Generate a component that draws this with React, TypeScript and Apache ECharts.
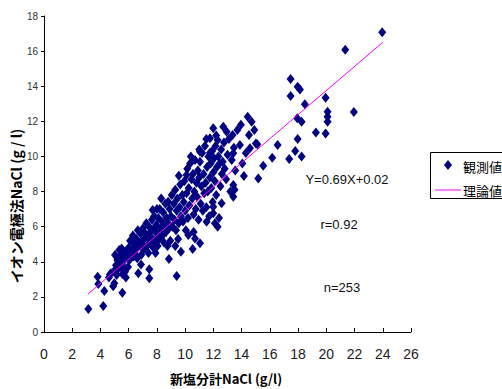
import React, { useEffect, useRef } from "react";
import * as echarts from "echarts";

const xTicks = [0, 2, 4, 6, 8, 10, 12, 14, 16, 18, 20, 22, 24, 26];
const yTicks = [0, 2, 4, 6, 8, 10, 12, 14, 16, 18];

const observedName = "観測値";
const theoryName = "理論値";

// observed points [新塩分計NaCl, イオン電極法NaCl]
const observedOutliers: number[][] = [
  [3.14, 1.31], [4.2, 1.48], [3.8, 3.15], [3.85, 2.73], [4.27, 2.33], [4.67, 3.28],
  [4.98, 2.77], [4.9, 2.6], [5.55, 2.24], [5.33, 4.67], [5.5, 4.75], [5.03, 4.38],
  [5.74, 3.43], [5.8, 3.1], [6.68, 3.34], [7.46, 3.06], [7.46, 3.57], [6.87, 3.85],
  [6.44, 4.48], [9.4, 3.19], [8.85, 4.16], [9.7, 4.57], [10.53, 4.73], [11.05, 5.05],
  [10.7, 5.33], [10.22, 5.52], [12.11, 6.19], [12.3, 6.0], [11.52, 6.28], [11.99, 6.76],
  [12.58, 7.33], [11.99, 7.14], [13.41, 7.71], [13.41, 8.37], [14.16, 8.88], [15.18, 8.75],
  [10.1, 8.94], [7.7, 6.95], [8.8, 7.42], [12.7, 11.69], [12.94, 11.41], [13.36, 11.22],
  [14.52, 11.22], [12.3, 10.93], [15.01, 10.74], [13.88, 10.65], [11.76, 10.21], [13.41, 10.18],
  [12.66, 9.7], [14.43, 12.26], [14.71, 11.98], [11.99, 11.6], [11.76, 11.03], [11.05, 10.27],
  [14.59, 10.46], [15.11, 10.69], [16.55, 10.65], [17.8, 10.31], [17.37, 9.85], [18.25, 10.0],
  [16.17, 9.93], [15.53, 9.47], [17.97, 10.99], [19.26, 11.37], [19.95, 11.31], [17.94, 12.17],
  [18.25, 11.98], [21.95, 12.53], [20.09, 12.55], [20.09, 12.26], [20.09, 11.98], [19.95, 13.34],
  [18.48, 12.97], [17.47, 13.44], [17.97, 13.97], [18.13, 13.82], [17.47, 14.41], [21.34, 16.08],
  [23.96, 17.08], [13.5, 8.1],
];

const observedCloud: number[][] = [
  [4.6, 3.1], [4.75, 3.35], [5.0, 3.5], [5.1, 3.8], [5.15, 3.25], [5.2, 4.1], [5.25, 3.6],
  [5.3, 3.9], [5.4, 4.3], [5.45, 3.7], [5.5, 3.95], [5.55, 3.3], [5.6, 4.5], [5.7, 4.1], [5.75, 3.6],
  [5.8, 4.6], [5.9, 4.3], [5.95, 3.7], [6.0, 4.8], [6.05, 4.1], [6.1, 5.2], [6.15, 4.5],
  [6.25, 4.7], [6.3, 5.5], [6.35, 4.3], [6.4, 5.0], [6.5, 4.7], [6.55, 5.3], [6.6, 4.2],
  [6.65, 5.8], [6.7, 4.9], [6.8, 5.1],
  [6.85, 5.6], [6.9, 4.4], [6.95, 5.0], [7.0, 5.9], [7.05, 4.7], [7.1, 5.3], [7.2, 5.6],
  [7.25, 6.2], [7.3, 4.9], [7.35, 5.4], [7.4, 4.5], [7.45, 6.0], [7.5, 5.1], [7.55, 5.7],
  [7.65, 6.4], [7.7, 5.3], [7.75, 4.8], [7.8, 5.9], [7.8, 6.6],
  [7.85, 5.2], [7.9, 4.5], [7.95, 6.1], [8.0, 5.6], [8.05, 4.9], [8.1, 6.5], [8.15, 5.3],
  [8.2, 7.0], [8.25, 5.9], [8.35, 6.3], [8.4, 5.5], [8.45, 6.8], [8.5, 5.1], [8.55, 6.0],
  [8.6, 7.3], [8.65, 5.7], [8.7, 6.5], [8.75, 4.9], [8.8, 6.2], [8.3, 7.6], [8.0, 7.0],
  [8.85, 5.9], [8.9, 7.0], [8.95, 5.2], [9.0, 6.6], [9.05, 7.8], [9.1, 6.0], [9.2, 7.3],
  [9.25, 6.4], [9.3, 8.1], [9.35, 5.8], [9.4, 6.9], [9.45, 7.6], [9.5, 5.3], [9.55, 6.2],
  [9.6, 7.1], [9.65, 8.4], [9.7, 6.6], [9.8, 7.8], [9.3, 4.9], [9.55, 8.9],
  [9.85, 6.3], [9.9, 7.4], [9.95, 8.6], [10.0, 6.9], [10.05, 5.8], [10.1, 7.9], [10.15, 9.3],
  [10.2, 6.5], [10.25, 8.2], [10.3, 7.2], [10.35, 9.6], [10.45, 8.7], [10.5, 7.6], [10.55, 9.0],
  [10.6, 6.7], [10.65, 8.0], [10.7, 9.8], [10.75, 7.0], [10.8, 8.5], [10.4, 10.0], [10.6, 5.7],
  [10.9, 9.2],
  [10.85, 7.7], [10.95, 6.4], [11.0, 8.8], [11.05, 9.7], [11.1, 7.3], [11.15, 8.3], [11.2, 10.2],
  [11.25, 6.9], [11.3, 9.0], [11.35, 7.9], [11.4, 10.6], [11.45, 8.5], [11.5, 7.1], [11.55, 9.4],
  [11.6, 8.0], [11.65, 10.0], [11.7, 6.6], [11.75, 8.8], [11.8, 9.6], [11.5, 11.0], [11.0, 10.4],
  [11.85, 8.2], [11.9, 10.3], [11.95, 7.4], [12.0, 9.1], [12.05, 9.9], [12.1, 8.6], [12.15, 10.6],
  [12.2, 7.8], [12.25, 9.4], [12.35, 10.0], [12.4, 6.5], [12.45, 9.6], [12.5, 8.3], [12.55, 10.4],
  [12.6, 9.0], [12.75, 10.8], [12.8, 9.3], [12.2, 11.2],
  [12.9, 8.7], [13.0, 10.1], [13.1, 11.0], [13.2, 8.0], [13.3, 9.8], [13.45, 10.5], [13.55, 9.2],
  [13.7, 11.5], [13.95, 11.8], [14.05, 9.6], [14.3, 10.2], [14.9, 11.5],
];

// theoretical line endpoints
const theoryLine: number[][] = [
  [3.1, 2.15],
  [24.0, 16.5],
];

const annotations = ["Y=0.69X+0.02", "r=0.92", "n=253"];

const narrow = "'Liberation Sans Narrow', 'Arial Narrow', 'Liberation Sans', Arial, sans-serif";
const jp = "'Noto Sans CJK JP', 'Liberation Sans', sans-serif";

export default function App() {
  const ref = useRef<HTMLDivElement>(null);

  useEffect(() => {
    if (!ref.current) return;
    const chart = echarts.init(ref.current, null, { renderer: "svg" });
    chart.setOption({
      animation: false,
      backgroundColor: "#ffffff",
      grid: { left: 44, top: 16, width: 367, height: 316 },
      xAxis: {
        type: "value",
        min: xTicks[0],
        max: xTicks[xTicks.length - 1],
        interval: 2,
        axisLine: { show: true, lineStyle: { color: "#000", width: 1 } },
        axisTick: { show: true, inside: true, length: 4, lineStyle: { color: "#000" } },
        axisLabel: { fontSize: 14, color: "#222", margin: 15, fontFamily: narrow },
        splitLine: { show: false },
      },
      yAxis: {
        type: "value",
        min: yTicks[0],
        max: yTicks[yTicks.length - 1],
        interval: 2,
        axisLine: { show: true, lineStyle: { color: "#000", width: 1 } },
        axisTick: { show: true, inside: false, length: 3, lineStyle: { color: "#000" } },
        axisLabel: { fontSize: 10, color: "#333", margin: 6, fontFamily: narrow },
        splitLine: { show: false },
      },
      series: [
        {
          name: observedName,
          type: "scatter",
          symbol: "diamond",
          symbolSize: [8, 10],
          itemStyle: { color: "#000080", opacity: 1 },
          data: [...observedOutliers, ...observedCloud],
          z: 2,
        },
        {
          name: theoryName,
          type: "line",
          showSymbol: false,
          symbol: "none",
          lineStyle: { color: "#ff00ff", width: 1 },
          data: theoryLine,
          z: 3,
        },
      ],
      graphic: [
        {
          type: "text",
          x: 16,
          y: 206,
          rotation: Math.PI / 2,
          style: {
            text: "イオン電極法NaCl (g / l)",
            font: `bold 14px ${jp}`,
            fill: "#000",
            align: "center",
            verticalAlign: "middle",
          },
        },
        {
          type: "text",
          x: 226,
          y: 378,
          style: {
            text: "新塩分計NaCl (g/l)",
            font: `bold 13px ${jp}`,
            fill: "#000",
            align: "center",
            verticalAlign: "middle",
          },
        },
        {
          type: "text",
          x: 347,
          y: 179,
          style: { text: annotations[0], font: `13px ${narrow}`, fill: "#111", align: "center", verticalAlign: "middle" },
        },
        {
          type: "text",
          x: 339,
          y: 224,
          style: { text: annotations[1], font: `13px ${narrow}`, fill: "#111", align: "center", verticalAlign: "middle" },
        },
        {
          type: "text",
          x: 342,
          y: 287,
          style: { text: annotations[2], font: `13px ${narrow}`, fill: "#111", align: "center", verticalAlign: "middle" },
        },
        {
          type: "rect",
          shape: { x: 430.5, y: 152.5, width: 90, height: 46 },
          style: { fill: "#fff", stroke: "#000", lineWidth: 1 },
        },
        {
          type: "polygon",
          shape: { points: [[448, 160], [452, 165], [448, 170], [444, 165]] },
          style: { fill: "#000080" },
        },
        {
          type: "line",
          shape: { x1: 435, y1: 190, x2: 461, y2: 190 },
          style: { stroke: "#ff00ff", lineWidth: 1 },
        },
        {
          type: "text",
          x: 463,
          y: 166,
          style: { text: observedName, font: `13px ${jp}`, fill: "#000", align: "left", verticalAlign: "middle" },
        },
        {
          type: "text",
          x: 463,
          y: 190,
          style: { text: theoryName, font: `13px ${jp}`, fill: "#000", align: "left", verticalAlign: "middle" },
        },
      ],
    });
    return () => chart.dispose();
  }, []);

  return (
    <div
      ref={ref}
      style={{ position: "fixed", left: 0, top: 0, width: 502, height: 389, background: "#fff" }}
    />
  );
}
